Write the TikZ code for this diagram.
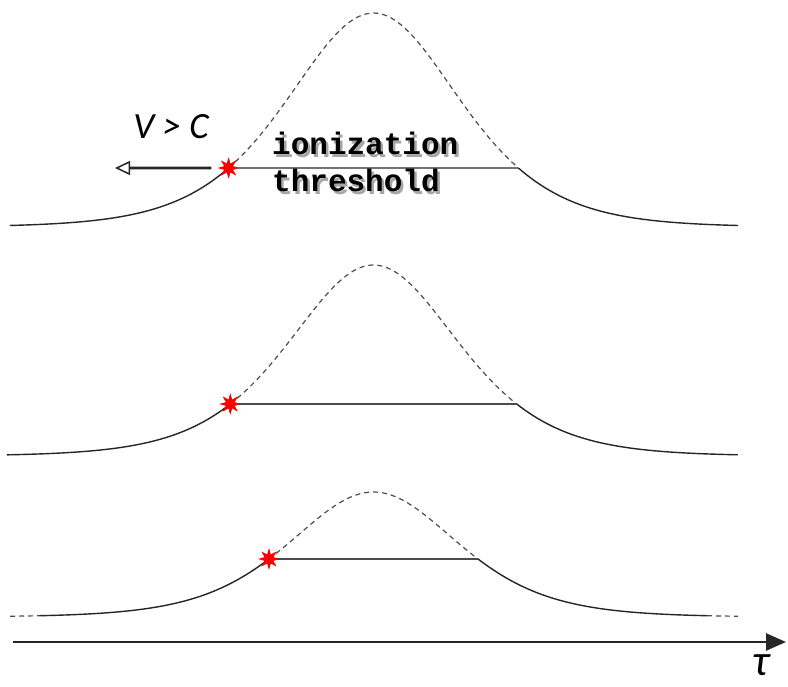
\documentclass[tikz,border=0pt]{standalone}
\usepackage{fontspec}
\setmainfont{Liberation Serif}
\newfontfamily\labelfont{Carlito}
\newfontfamily\monofont{Liberation Mono}
\usetikzlibrary{shapes.geometric,arrows.meta}
\newcommand\shadowed[1]{\makebox[0pt][l]{\kern2.5pt\raisebox{-2.5pt}{\color{black!35}#1}}#1}
\begin{document}
\begin{tikzpicture}[x=1pt,y=-1pt,
  curve/.style={line width=1.4pt,black!85},
  dcurve/.style={line width=1.2pt,black!70,dash pattern=on 5pt off 4pt},
  thr/.style={line width=1.8pt},
  burst/.style={star,star points=8,star point ratio=2.3,fill=red,draw=none,minimum size=21pt,inner sep=0pt},
  vel/.style={line width=2.8pt,black!85,-{Triangle[open,length=15pt,width=14pt,line width=1.5pt]}},
  axis/.style={line width=2.6pt,black!85,-{Triangle[length=20pt,width=17pt]}},
  mono/.style={font=\monofont\bfseries\fontsize{31}{34}\selectfont,inner sep=0pt,anchor=base west}
]
\useasboundingbox (0,0) rectangle (788,687);

% ---------- top pulse (sech^2 shape) ----------
\draw[curve] plot[domain=-3.161:-1.26,samples=70,variable=\v] ({373.5+115*\v},{227-214/(cosh(\v)^2)});
\draw[dcurve] plot[domain=-1.26:1.26,samples=90,variable=\v] ({373.5+115*\v},{227-214/(cosh(\v)^2)});
\draw[curve] plot[domain=1.26:3.17,samples=70,variable=\v] ({373.5+115*\v},{227-214/(cosh(\v)^2)});
\coordinate (r1) at ({373.5+115*1.26},{227-214/(cosh(1.26)^2)});
\node[burst] (s1) at ({373.5-115*1.26},{227-214/(cosh(1.26)^2)}) {};
\draw[thr,black!55] (s1.center) -- (r1);
\node[burst] at (s1) {};
\coordinate (vend) at (115,168);
\draw[vel] ([xshift=-6pt]s1.west) -- (vend);
\node[font=\labelfont\itshape\fontsize{37}{40}\selectfont,inner sep=0pt] (vc) at (171,127) {V > C};
\node[mono] (t1) at (272,155) {\shadowed{ionization}};
\node[mono] (t2) at (272,192) {\shadowed{threshold}};

% ---------- middle pulse ----------
\draw[curve] plot[domain=-3.245:-1.2673,samples=70,variable=\v] ({373.5+113*\v},{456-191/(cosh(\v)^2)});
\draw[dcurve] plot[domain=-1.2673:1.2673,samples=90,variable=\v] ({373.5+113*\v},{456-191/(cosh(\v)^2)});
\draw[curve] plot[domain=1.2673:3.225,samples=70,variable=\v] ({373.5+113*\v},{456-191/(cosh(\v)^2)});
\coordinate (r2) at ({373.5+113*1.2673},{456-191/(cosh(1.2673)^2)});
\node[burst] (s2) at ({373.5-113*1.2673},{456-191/(cosh(1.2673)^2)}) {};
\draw[thr,black!70] (s2.center) -- (r2);
\node[burst] at (s2) {};

% ---------- bottom pulse ----------
\draw[dcurve] plot[domain=-3.245:-2.978,samples=10,variable=\v] ({373.5+112*\v},{617-125/(cosh(\v)^2)});
\draw[curve] plot[domain=-2.978:-0.9332,samples=70,variable=\v] ({373.5+112*\v},{617-125/(cosh(\v)^2)});
\draw[dcurve] plot[domain=-0.9332:0.9332,samples=80,variable=\v] ({373.5+112*\v},{617-125/(cosh(\v)^2)});
\draw[curve] plot[domain=0.9332:2.978,samples=70,variable=\v] ({373.5+112*\v},{617-125/(cosh(\v)^2)});
\draw[dcurve] plot[domain=2.978:3.254,samples=10,variable=\v] ({373.5+112*\v},{617-125/(cosh(\v)^2)});
\coordinate (r3) at ({373.5+112*0.9332},{617-125/(cosh(0.9332)^2)});
\node[burst] (s3) at ({373.5-112*0.9332},{617-125/(cosh(0.9332)^2)}) {};
\draw[thr,black!70] (s3.center) -- (r3);
\node[burst] at (s3) {};

% ---------- axis ----------
\coordinate (axL) at (13,642);
\coordinate (axR) at (786,642);
\draw[axis] (axL) -- (axR);
\node[font=\labelfont\itshape\fontsize{44}{46}\selectfont,inner sep=0pt] (tau) at (761,665) {τ};
\end{tikzpicture}
\end{document}
